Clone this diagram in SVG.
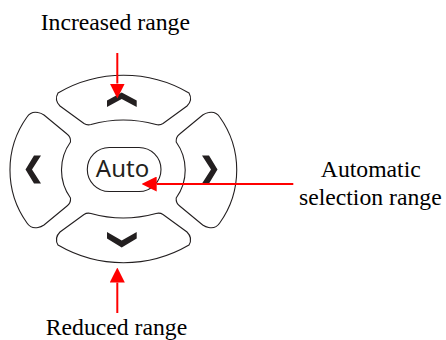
<svg xmlns="http://www.w3.org/2000/svg" width="446" height="340" viewBox="0 0 446 340">
  <style>
    .btn { fill: #ffffff; stroke: #231f20; stroke-width: 1.1; }
    .chev { fill: #231f20; stroke: none; }
    .label { font-family: "Liberation Serif", "Times New Roman", serif; font-size: 23.7px; fill: #000000; text-anchor: middle; }
    .auto { font-family: "Noto Sans", "DejaVu Sans", sans-serif; font-size: 24px; fill: #231f20; text-anchor: middle; }
    .conn { stroke: #ff0000; stroke-width: 2; fill: none; }
  </style>
  <defs>
    <marker id="arrow" markerUnits="userSpaceOnUse" markerWidth="15" markerHeight="15" viewBox="0 0 15 15" refX="0" refY="7.5" orient="auto">
      <path d="M0,0 L15,7.5 L0,15 Z" fill="#ff0000"/>
    </marker>
  </defs>
  <rect width="446" height="340" fill="#ffffff"/>

  <g id="btn-up">
    <path class="btn" d="M58,93 A130 130 0 0 1 189,93 Q193,100 187,106 L163,123.5 Q160,125.5 156,124.5 Q123,115.5 91,124.5 Q87,125.5 84,123.5 L60,106 Q54,100 58,93 Z"/>
    <polygon class="chev" points="107,100.5 121.7,92.5 136.7,100.5 136.7,107 121.7,99 107,107"/>
  </g>

  <g id="btn-down">
    <path class="btn" d="M58,245 A130 130 0 0 0 189,245 Q193,238 187,232 L163,214.5 Q160,212.5 156,213.5 Q123,222.5 91,213.5 Q87,212.5 84,214.5 L60,232 Q54,238 58,245 Z"/>
    <polygon class="chev" points="107,232 121.7,240.5 136.7,232 136.7,238.5 121.7,247.5 107,238.5"/>
  </g>

  <g id="btn-left">
    <path class="btn" d="M27,117 Q31,111 38,112.5 Q41,113 44,115 L67,134 Q71,137 70.5,142 A48 48 0 0 0 70.5,198 Q71,203 67,206 L44,225 Q41,227 38,227.5 Q31,229 27,223 A91 91 0 0 1 27,117 Z"/>
    <polygon class="chev" points="34,155.5 41,155.5 32,169.5 41,183.5 34,183.5 25.5,169.5"/>
  </g>

  <g id="btn-right">
    <path class="btn" d="M219.7,117 Q215.7,111 208.7,112.5 Q205.7,113 202.7,115 L179.7,134 Q175.7,137 176.2,142 A48 48 0 0 1 176.2,198 Q175.7,203 179.7,206 L202.7,225 Q205.7,227 208.7,227.5 Q215.7,229 219.7,223 A91 91 0 0 0 219.7,117 Z"/>
    <polygon class="chev" points="209,155.5 202,155.5 211,169.5 202,183.5 209,183.5 217.5,169.5"/>
  </g>

  <g id="btn-auto">
    <rect class="btn" x="87.3" y="147.5" width="73.7" height="44" rx="22" ry="22"/>
    <text class="auto" x="122.5" y="176.7">Auto</text>
  </g>

  <g id="label-increased">
    <text class="label" x="115.3" y="30">Increased range</text>
  </g>
  <g id="label-reduced">
    <text class="label" x="116.5" y="335">Reduced range</text>
  </g>
  <g id="label-automatic">
    <text class="label" x="370.8" y="176.7">Automatic</text>
    <text class="label" x="370.3" y="204.5">selection range</text>
  </g>

  <g id="connectors">
    <line class="conn" x1="117.3" y1="53" x2="117.3" y2="83.5" marker-end="url(#arrow)"/>
    <line class="conn" x1="117.3" y1="313" x2="117.3" y2="282.5" marker-end="url(#arrow)"/>
    <line class="conn" x1="293.3" y1="184" x2="156.7" y2="184" marker-end="url(#arrow)"/>
  </g>
</svg>
